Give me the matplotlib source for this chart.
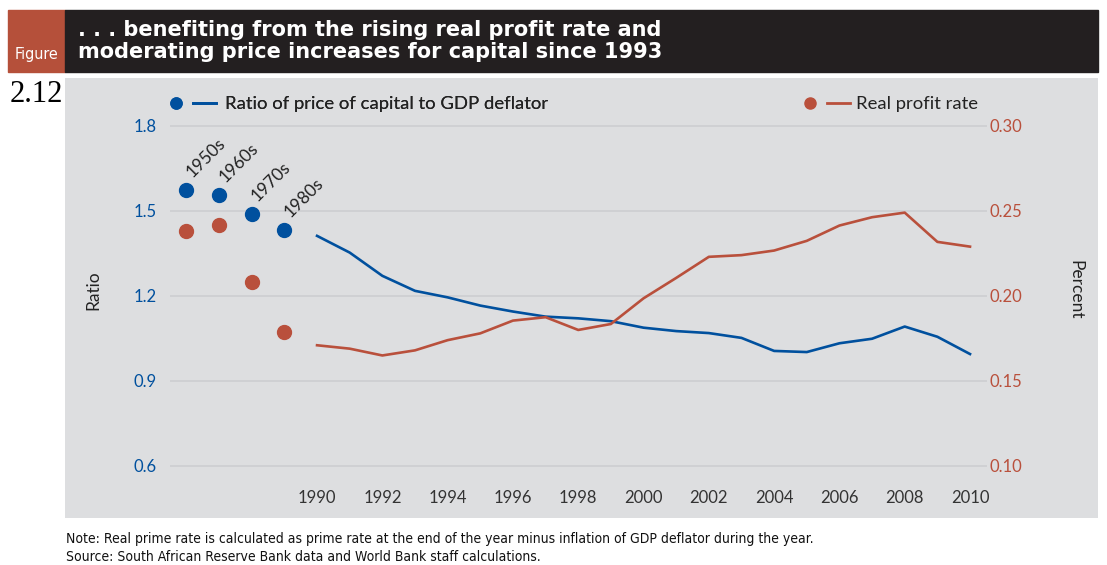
#!/usr/bin/env python3

import matplotlib
matplotlib.use("Agg")
import matplotlib.pyplot as plt
from matplotlib.lines import Line2D
from matplotlib.patches import Rectangle
from matplotlib.legend_handler import HandlerTuple

# data
decades = ["1950s", "1960s", "1970s", "1980s"]
decade_ratio = [1.574, 1.557, 1.489, 1.433]
decade_profit = [0.238, 0.242, 0.208, 0.179]

years = list(range(1990, 2011))
ratio = [1.412, 1.353, 1.271, 1.218, 1.195, 1.166, 1.145, 1.127, 1.121, 1.111,
         1.088, 1.076, 1.069, 1.052, 1.006, 1.002, 1.033, 1.049, 1.092, 1.056, 0.995]
profit = [0.171, 0.169, 0.165, 0.168, 0.174, 0.178, 0.1855, 0.1875, 0.180, 0.1835,
          0.1986, 0.2106, 0.223, 0.224, 0.2267, 0.2324, 0.2414, 0.2463, 0.249, 0.2318, 0.229]

left_ticks = [0.6, 0.9, 1.2, 1.5, 1.8]
right_ticks = [0.10, 0.15, 0.20, 0.25, 0.30]
year_ticks = list(range(1990, 2011, 2))

BLUE = "#00509e"
RED = "#b9503c"
BG = "#dddee0"
GRID = "#cdced1"
DARK = "#231f20"
SANS = ["Lato", "DejaVu Sans"]


def _main():
    plt.rcParams["font.family"] = SANS
    fig = plt.figure(figsize=(11.07, 5.65), dpi=100)
    W, H = 1107, 565

    # header
    fig.patches.append(Rectangle((8 / W, 1 - 72 / H), 57 / W, 62 / H,
                                 transform=fig.transFigure, color="#b5503a"))
    fig.patches.append(Rectangle((65 / W, 1 - 72 / H), 1033 / W, 62 / H,
                                 transform=fig.transFigure, color=DARK))
    for i, line in enumerate([". . . benefiting from the rising real profit rate and",
                              "moderating price increases for capital since 1993"]):
        fig.text(78 / W, 1 - (30 + 22 * i) / H, line, color="white", fontsize=15,
                 fontweight="bold", va="center", family="DejaVu Sans")
    fig.text(36 / W, 1 - 55 / H, "Figure", color="white", fontsize=11.5, ha="center",
             va="center", family="DejaVu Sans", fontstretch="condensed")
    fig.text(10 / W, 1 - 95 / H, "2.12", color="black", fontsize=22, ha="left",
             va="center", family=["Liberation Serif", "DejaVu Serif"])

    ax = fig.add_axes([65 / W, 47 / H, 1033 / W, 440 / H])
    ax.set_facecolor(BG)
    for s in ax.spines.values():
        s.set_visible(False)
    ax.set_xlim(1982.28, 2013.92)
    ylo, yhi = 0.4165, 1.969
    ax.set_ylim(ylo, yhi)

    ax2 = ax.twinx()
    ax2.set_ylim(0.10 + (ylo - 0.6) / 6, 0.10 + (yhi - 0.6) / 6)
    for s in ax2.spines.values():
        s.set_visible(False)

    ax.hlines(left_ticks, 1985.5, 2010.52, color=GRID, lw=1.2, zorder=1)

    ax.set_yticks(left_ticks)
    ax.set_yticklabels([f"{v:.1f}" for v in left_ticks])
    ax.tick_params(axis="y", length=0, pad=-66, labelcolor=BLUE, labelsize=12)
    ax2.set_yticks(right_ticks)
    ax2.set_yticklabels([f"{v:.2f}" for v in right_ticks])
    ax2.tick_params(axis="y", length=0, pad=-78, labelcolor=RED, labelsize=12)
    ax.set_xticks(year_ticks)
    ax.set_xticklabels([str(y) for y in year_ticks])
    ax.tick_params(axis="x", length=0, pad=-20, labelcolor="#333333", labelsize=12)

    ax.plot(years, ratio, color=BLUE, lw=1.9, zorder=3)
    ax2.plot(years, profit, color=RED, lw=1.9, zorder=3)

    dx = [years[0] - len(decades) + i for i in range(len(decades))]
    ax.plot(dx, decade_ratio, "o", color=BLUE, ms=10, zorder=4)
    ax2.plot(dx, decade_profit, "o", color=RED, ms=10, zorder=4)
    for x, y, lab in zip(dx, decade_ratio, decades):
        ax.annotate(lab, (x, y), xytext=(6, 7), textcoords="offset points",
                    rotation=45, rotation_mode="anchor", ha="left", va="bottom",
                    fontsize=12.5, color="#222222")

    fig.text(93 / W, 1 - 290 / H, "Ratio", rotation=90, fontsize=12.5,
             ha="center", va="center", color="#222222")
    fig.text(1075 / W, 1 - 290 / H, "Percent", rotation=270, fontsize=12.5,
             ha="center", va="center", color="#222222")

    hmap = {tuple: HandlerTuple(ndivide=None, pad=0.3)}
    hb = (Line2D([], [], ls="none", marker="o", color=BLUE, ms=8),
          Line2D([], [], color=BLUE, lw=2))
    hr = (Line2D([], [], ls="none", marker="o", color=RED, ms=8),
          Line2D([], [], color=RED, lw=2))
    leg1 = ax.legend([hb], ["Ratio of price of capital to GDP deflator"],
                     handler_map=hmap, loc="upper left", bbox_to_anchor=(0.080, 0.996),
                     frameon=False, fontsize=13.3, handlelength=2.8, handletextpad=0.5,
                     labelcolor="#222222")
    ax.add_artist(leg1)
    ax2.legend([hr], ["Real profit rate"], handler_map=hmap, loc="upper left",
               bbox_to_anchor=(0.694, 0.996), frameon=False, fontsize=13.3,
               handlelength=2.8, handletextpad=0.3, labelcolor="#222222")

    fig.text(66 / W, 1 - 539 / H,
             "Note: Real prime rate is calculated as prime rate at the end of the year "
             "minus inflation of GDP deflator during the year.",
             fontsize=10, va="center", family="DejaVu Sans", fontstretch="condensed",
             color="#111111")
    fig.text(66 / W, 1 - 557 / H,
             "Source: South African Reserve Bank data and World Bank staff calculations.",
             fontsize=10, va="center", family="DejaVu Sans", fontstretch="condensed",
             color="#111111")

    fig.savefig("out.png", dpi=100)


if __name__ == '__main__':
    _main()
